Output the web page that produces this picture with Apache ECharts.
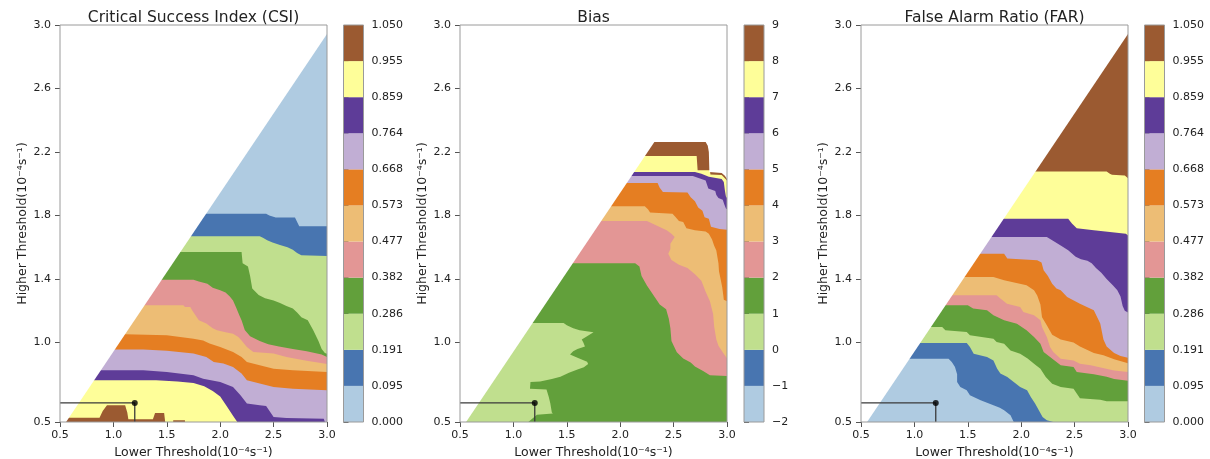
<!DOCTYPE html>
<html><head><meta charset="utf-8">
<script src="https://cdn.jsdelivr.net/npm/echarts@6/dist/echarts.min.js"></script>
<style>html,body{margin:0;padding:0;background:#fff}#c{width:1210px;height:459px}</style>
</head><body><div id="c"></div>
<script>
// ---------- data ----------
const X_TICKS = [0.5, 1.0, 1.5, 2.0, 2.5, 3.0];
const Y_TICKS = [0.5, 1.0, 1.4, 1.8, 2.2, 2.6, 3.0];
const COLORS = ['#afcbe1','#4875b0','#c0df8e','#62a03b','#e39695','#edbd75','#e57e22','#c1aed4','#5e3c98','#fefe99','#9b5a31'];
const CSI_LABELS = ['0.000','0.095','0.191','0.286','0.382','0.477','0.573','0.668','0.764','0.859','0.955','1.050'];
const BIAS_LABELS = ['\u22122','\u22121','0','1','2','3','4','5','6','7','8','9'];
const FAR_LABELS = ['0.000','0.095','0.191','0.286','0.382','0.477','0.573','0.668','0.764','0.859','0.955','1.050'];
const TITLES = ['Critical Success Index (CSI)', 'Bias', 'False Alarm Ratio (FAR)'];
const PANEL_TAGS = ['(a)', '(b)', '(c)'];
const X_NAME = 'Lower Threshold(10\u207B\u2074s\u207B\u00B9)';
const Y_NAME = 'Higher Threshold(10\u207B\u2074s\u207B\u00B9)';
// edge of the valid (lower-right) region
const DIAG = [[0.557, 0.5], [3.0, 2.943]];
// chosen threshold pair
const MARKER = [1.2, 0.62];

// CSI: upper edge of each class (class k lies below boundary k)
const CSI_B1 = [[0.5,1.812],[2.43,1.812],[2.46,1.80],[2.52,1.787],[2.70,1.787],[2.74,1.732],[3.0,1.732]];
const CSI_B2 = [[0.5,1.669],[2.37,1.669],[2.40,1.66],[2.44,1.645],[2.49,1.63],[2.56,1.615],[2.63,1.60],[2.68,1.585],[2.72,1.565],[2.76,1.55],[3.0,1.545]];
const CSI_B3 = [[0.5,1.571],[2.20,1.571],[2.21,1.50],[2.26,1.48],[2.28,1.42],[2.30,1.34],[2.36,1.30],[2.42,1.28],[2.50,1.265],[2.56,1.25],[2.62,1.23],[2.68,1.215],[2.72,1.19],[2.76,1.16],[2.82,1.14],[2.87,1.08],[2.92,1.01],[2.95,0.96],[2.98,0.935],[3.0,0.93]];
const CSI_B4 = [[0.5,1.396],[1.75,1.396],[1.80,1.385],[1.88,1.37],[1.93,1.345],[2.00,1.33],[2.05,1.315],[2.09,1.29],[2.12,1.265],[2.15,1.22],[2.18,1.17],[2.20,1.14],[2.23,1.08],[2.28,1.04],[2.37,1.01],[2.45,0.99],[2.55,0.975],[2.68,0.96],[2.81,0.945],[2.95,0.925],[3.0,0.91]];
const CSI_B5 = [[0.5,1.235],[1.655,1.235],[1.67,1.224],[1.72,1.224],[1.74,1.20],[1.77,1.17],[1.80,1.14],[1.87,1.12],[1.93,1.09],[1.97,1.077],[2.05,1.065],[2.12,1.056],[2.17,1.035],[2.20,1.014],[2.25,0.973],[2.31,0.941],[2.50,0.931],[2.62,0.91],[2.81,0.885],[3.0,0.865]];
const CSI_B6 = [[0.5,1.052],[1.11,1.052],[1.50,1.046],[1.75,1.025],[1.84,1.014],[1.90,0.994],[2.00,0.973],[2.12,0.941],[2.20,0.91],[2.25,0.878],[2.37,0.857],[2.50,0.836],[2.68,0.826],[3.0,0.815]];
const CSI_B7 = [[0.5,0.956],[1.28,0.956],[1.50,0.948],[1.75,0.931],[1.87,0.91],[1.94,0.878],[2.03,0.868],[2.12,0.847],[2.20,0.805],[2.25,0.763],[2.37,0.742],[2.50,0.721],[2.68,0.71],[3.0,0.70]];
const CSI_B8 = [[0.5,0.826],[1.28,0.826],[1.50,0.815],[1.75,0.794],[1.84,0.773],[2.00,0.752],[2.12,0.721],[2.19,0.668],[2.25,0.616],[2.37,0.605],[2.43,0.60],[2.50,0.532],[2.62,0.525],[2.97,0.52],[2.98,0.5],[3.0,0.5]];
const CSI_B9 = [[0.5,0.763],[1.40,0.763],[1.60,0.755],[1.75,0.745],[1.85,0.725],[1.93,0.695],[2.00,0.66],[2.06,0.60],[2.12,0.54],[2.16,0.5]];
const CSI_B10 = [[0.5,0.527],[0.87,0.527],[0.90,0.57],[0.94,0.605],[1.11,0.605],[1.13,0.56],[1.14,0.517],[1.37,0.517],[1.39,0.557],[1.475,0.557],[1.485,0.5],[1.56,0.5],[1.56,0.511],[1.67,0.511],[1.67,0.5],[3.0,0.5]];

// Bias: light-green pocket (class 0..1) and lower edges of higher classes (class lies above)
const BIAS_LG = [[0.5,0.5],[0.5,1.124],[1.47,1.124],[1.50,1.11],[1.56,1.09],[1.62,1.077],[1.75,1.065],[1.69,1.04],[1.64,1.02],[1.655,1.00],[1.67,0.975],[1.60,0.96],[1.56,0.945],[1.53,0.925],[1.60,0.905],[1.69,0.88],[1.70,0.865],[1.66,0.845],[1.60,0.83],[1.52,0.81],[1.44,0.785],[1.36,0.77],[1.25,0.755],[1.16,0.752],[1.155,0.71],[1.31,0.705],[1.33,0.66],[1.345,0.62],[1.36,0.56],[1.37,0.553],[1.22,0.545],[1.14,0.5]];
const BIAS_B3 = [[0.5,1.50],[2.14,1.50],[2.18,1.48],[2.20,1.42],[2.25,1.36],[2.31,1.30],[2.37,1.24],[2.43,1.21],[2.455,1.15],[2.47,1.09],[2.48,1.01],[2.53,0.94],[2.59,0.90],[2.66,0.875],[2.70,0.85],[2.78,0.82],[2.84,0.795],[3.0,0.79]];
const BIAS_B4 = [[0.5,1.766],[2.25,1.766],[2.37,1.728],[2.435,1.707],[2.48,1.686],[2.51,1.665],[2.47,1.623],[2.47,1.59],[2.45,1.56],[2.48,1.52],[2.55,1.49],[2.63,1.47],[2.70,1.43],[2.76,1.39],[2.80,1.32],[2.84,1.26],[2.87,1.18],[2.88,1.10],[2.90,1.02],[2.92,0.98],[2.96,0.94],[3.0,0.90]];
const BIAS_B5 = [[0.5,1.858],[2.23,1.858],[2.26,1.84],[2.28,1.82],[2.49,1.812],[2.52,1.79],[2.55,1.765],[2.59,1.76],[2.62,1.72],[2.70,1.707],[2.80,1.70],[2.83,1.686],[2.86,1.65],[2.88,1.61],[2.90,1.58],[2.92,1.50],[2.925,1.45],[2.94,1.40],[2.955,1.35],[2.965,1.30],[2.97,1.27],[3.0,1.26]];
const BIAS_B6 = [[0.5,2.005],[2.35,2.005],[2.37,1.975],[2.40,1.948],[2.63,1.945],[2.66,1.915],[2.70,1.89],[2.73,1.85],[2.77,1.83],[2.79,1.79],[2.83,1.78],[2.85,1.73],[2.93,1.715],[3.0,1.71]];
const BIAS_B7 = [[0.5,2.049],[2.68,2.049],[2.74,2.035],[2.80,2.02],[2.81,2.00],[2.825,1.97],[2.89,1.955],[2.90,1.93],[2.92,1.91],[2.96,1.90],[2.975,1.87],[2.99,1.845],[3.0,1.84]];
const BIAS_B8 = [[0.5,2.074],[2.70,2.074],[2.76,2.063],[2.83,2.045],[2.95,2.03],[2.97,2.011],[2.98,1.96],[2.99,1.92],[3.0,1.91]];
const BIAS_B9 = [[0.5,2.175],[2.716,2.175],[2.725,2.085],[2.84,2.085],[2.845,2.058],[2.95,2.055],[2.98,2.035],[3.0,2.02]];
const BIAS_TOP = [[0.5,2.263],[2.80,2.263],[2.82,2.24],[2.83,2.20],[2.835,2.074],[2.95,2.068],[2.98,2.05],[3.0,2.03]];

// FAR: lower edge of each class (class k lies above boundary k)
const FAR_B1 = [[0.5,0.899],[1.32,0.899],[1.35,0.878],[1.38,0.847],[1.40,0.80],[1.40,0.752],[1.43,0.72],[1.49,0.70],[1.52,0.668],[1.62,0.637],[1.74,0.605],[1.80,0.59],[1.84,0.574],[1.90,0.542],[1.93,0.5],[3.0,0.5]];
const FAR_B2 = [[0.5,0.997],[1.49,0.997],[1.52,0.972],[1.555,0.93],[1.68,0.91],[1.74,0.888],[1.775,0.836],[1.805,0.805],[1.87,0.783],[1.93,0.752],[1.99,0.72],[2.055,0.70],[2.09,0.658],[2.13,0.616],[2.165,0.574],[2.20,0.532],[2.24,0.511],[2.30,0.5],[3.0,0.5]];
const FAR_B3 = [[0.5,1.098],[1.26,1.098],[1.29,1.077],[1.49,1.067],[1.52,1.046],[1.74,1.025],[1.77,1.004],[1.84,0.993],[1.90,0.951],[1.99,0.93],[2.06,0.90],[2.12,0.867],[2.18,0.836],[2.23,0.783],[2.29,0.741],[2.37,0.72],[2.49,0.71],[2.52,0.68],[2.55,0.65],[2.74,0.64],[2.80,0.63],[3.0,0.63]];
const FAR_B4 = [[0.5,1.235],[1.50,1.235],[1.55,1.214],[1.68,1.203],[1.74,1.172],[1.84,1.14],[1.96,1.119],[2.05,1.077],[2.12,1.035],[2.18,0.993],[2.21,0.941],[2.27,0.91],[2.37,0.857],[2.49,0.846],[2.52,0.815],[2.68,0.80],[2.80,0.785],[2.87,0.77],[3.0,0.76]];
const FAR_B5 = [[0.5,1.298],[1.77,1.298],[1.805,1.277],[1.867,1.245],[1.99,1.224],[2.02,1.193],[2.12,1.172],[2.18,1.14],[2.195,1.098],[2.24,1.035],[2.27,0.972],[2.30,0.941],[2.37,0.899],[2.49,0.888],[2.55,0.867],[2.65,0.857],[2.87,0.825],[3.0,0.815]];
const FAR_B6 = [[0.5,1.413],[1.74,1.413],[1.84,1.392],[2.05,1.361],[2.12,1.33],[2.15,1.297],[2.18,1.24],[2.195,1.16],[2.24,1.11],[2.29,1.05],[2.37,1.02],[2.49,1.00],[2.55,0.975],[2.68,0.935],[2.77,0.92],[2.87,0.895],[3.0,0.87]];
const FAR_B7 = [[0.5,1.56],[1.84,1.56],[1.87,1.53],[2.15,1.518],[2.19,1.505],[2.21,1.455],[2.25,1.42],[2.29,1.37],[2.33,1.34],[2.37,1.33],[2.43,1.287],[2.55,1.245],[2.68,1.203],[2.74,1.12],[2.77,1.02],[2.80,0.975],[2.87,0.935],[2.93,0.915],[3.0,0.905]];
const FAR_B8 = [[0.5,1.665],[2.24,1.665],[2.29,1.644],[2.37,1.612],[2.44,1.581],[2.51,1.54],[2.56,1.525],[2.62,1.515],[2.66,1.50],[2.70,1.47],[2.75,1.44],[2.80,1.40],[2.86,1.36],[2.90,1.33],[2.93,1.29],[2.95,1.23],[2.97,1.20],[3.0,1.19]];
const FAR_B9 = [[0.5,1.78],[2.44,1.78],[2.475,1.75],[2.52,1.72],[2.68,1.707],[2.83,1.696],[2.98,1.686],[3.0,1.675]];
const FAR_B10 = [[0.5,2.078],[2.80,2.078],[2.83,2.064],[2.85,2.057],[2.97,2.053],[3.0,2.035]];

// ---------- build ----------
const XMIN = X_TICKS[0], XMAX = X_TICKS[X_TICKS.length-1];
const YMIN = Y_TICKS[0], YMAX = Y_TICKS[Y_TICKS.length-1];
const BOX = [[XMIN,YMIN],[XMAX,YMIN],[XMAX,YMAX],[XMIN,YMAX]];
const below = p => p.concat([[XMAX,YMIN],[XMIN,YMIN]]);
const above = p => p.concat([[XMAX,YMAX],[XMIN,YMAX]]);
const DIAG_MASK = [[XMIN,YMIN]].concat(DIAG, [[XMAX,YMAX],[XMIN,YMAX]]);
const WHITE = '#ffffff';

const layersA = [{p:BOX,c:COLORS[0]}]
  .concat([CSI_B1,CSI_B2,CSI_B3,CSI_B4,CSI_B5,CSI_B6,CSI_B7,CSI_B8,CSI_B9,CSI_B10].map((b,i)=>({p:below(b),c:COLORS[i+1]})))
  .concat([{p:DIAG_MASK,c:WHITE}]);
const layersB = [{p:BOX,c:COLORS[3]},{p:BIAS_LG,c:COLORS[2]}]
  .concat([BIAS_B3,BIAS_B4,BIAS_B5,BIAS_B6,BIAS_B7,BIAS_B8,BIAS_B9].map((b,i)=>({p:above(b),c:COLORS[i+4]})))
  .concat([{p:above(BIAS_TOP),c:WHITE},{p:DIAG_MASK,c:WHITE}]);
const layersC = [{p:BOX,c:COLORS[0]}]
  .concat([FAR_B1,FAR_B2,FAR_B3,FAR_B4,FAR_B5,FAR_B6,FAR_B7,FAR_B8,FAR_B9,FAR_B10].map((b,i)=>({p:above(b),c:COLORS[i+1]})))
  .concat([{p:DIAG_MASK,c:WHITE}]);

const FONT = 'DejaVu Sans';
const TXT = '#222';
const PLOT_LEFT = [60, 460, 861];
const PLOT_W = 267, TOP = 25, H = 397;
const CB_LEFT = [343.5, 744, 1144.5], CB_W = 20;
const LABELS = [CSI_LABELS, BIAS_LABELS, FAR_LABELS];
const LAYERS = [layersA, layersB, layersC];

const grid = [], xAxis = [], yAxis = [], series = [], graphic = [];
for (let k = 0; k < 3; k++) {
  grid.push({left:PLOT_LEFT[k], top:TOP, width:PLOT_W, height:H, containLabel:false, outerBoundsMode:'none', show:true, borderColor:'#9a9a9a', borderWidth:1, backgroundColor:'transparent', z:10});
  grid.push({left:CB_LEFT[k], top:TOP, width:CB_W, height:H, containLabel:false, outerBoundsMode:'none', show:true, borderColor:'#9a9a9a', borderWidth:1, backgroundColor:'transparent', z:10});
  const gp = 2*k, gc = 2*k+1;
  xAxis.push({type:'value', gridIndex:gp, min:XMIN, max:XMAX, interval:0.5,
    axisLine:{show:false}, splitLine:{show:false},
    axisTick:{show:true, length:5, lineStyle:{color:'#555'}},
    axisLabel:{fontFamily:FONT, fontSize:11, color:TXT, margin:8, formatter:v=>v.toFixed(1)},
    name:X_NAME, nameLocation:'middle', nameGap:21, nameTextStyle:{fontFamily:FONT, fontSize:12.5, color:TXT}});
  yAxis.push({type:'value', gridIndex:gp, min:YMIN, max:YMAX,
    axisLine:{show:false}, splitLine:{show:false},
    axisTick:{show:true, length:5, lineStyle:{color:'#555'}, customValues:Y_TICKS},
    axisLabel:{fontFamily:FONT, fontSize:11, color:TXT, margin:9, customValues:Y_TICKS, formatter:v=>v.toFixed(1)},
    name:Y_NAME, nameLocation:'middle', nameGap:30, nameTextStyle:{fontFamily:FONT, fontSize:12.5, color:TXT}});
  xAxis.push({type:'value', gridIndex:gc, min:0, max:1, show:false});
  const labs = LABELS[k];
  yAxis.push({type:'value', gridIndex:gc, min:0, max:labs.length-1, interval:1, position:'right',
    axisLine:{show:false}, splitLine:{show:false},
    axisTick:{show:true, length:5, lineStyle:{color:'#555'}},
    axisLabel:{fontFamily:FONT, fontSize:11, color:TXT, margin:8, formatter:v=>labs[Math.round(v)]}});

  const layers = LAYERS[k];
  series.push({type:'custom', xAxisIndex:gp, yAxisIndex:gp, clip:true, silent:true, z:2,
    data: layers.map((l,i)=>[l.p[0][0], l.p[0][1], i]),
    renderItem:(params, api)=>{
      const L = layers[params.dataIndex];
      return {type:'polygon', z2:params.dataIndex, shape:{points:L.p.map(pt=>api.coord(pt))}, style:{fill:L.c, stroke:null}};
    }});
  series.push({type:'custom', xAxisIndex:gc, yAxisIndex:gc, silent:true, z:2,
    data: COLORS.map((c,i)=>[0, i]),
    renderItem:(params, api)=>{
      const i = api.value(1);
      const p0 = api.coord([0, i]), p1 = api.coord([1, i+1]);
      return {type:'rect', shape:{x:p0[0], y:p1[1], width:p1[0]-p0[0], height:p0[1]-p1[1]}, style:{fill:COLORS[params.dataIndex]}};
    }});
  series.push({type:'line', xAxisIndex:gp, yAxisIndex:gp, z:6, silent:true, symbol:'none',
    lineStyle:{color:'#3a3a3a', width:1.3},
    data:[[XMIN, MARKER[1]], MARKER, [MARKER[0], YMIN]]});
  series.push({type:'scatter', xAxisIndex:gp, yAxisIndex:gp, z:7, silent:true, symbolSize:6,
    itemStyle:{color:'#000'}, data:[MARKER]});

  graphic.push({type:'text', x:PLOT_LEFT[k] + PLOT_W/2, y:17.5, style:{text:TITLES[k], font:'15.5px "DejaVu Sans"', fill:TXT, align:'center', verticalAlign:'middle'}});
  graphic.push({type:'text', x:PLOT_LEFT[k] + 5, y:53, style:{text:PANEL_TAGS[k], font:'14px "DejaVu Sans"', fill:TXT, align:'left', verticalAlign:'middle'}});
}

const chart = echarts.init(document.getElementById('c'), null, {renderer:'canvas'});
chart.setOption({animation:false, backgroundColor:'#fff', grid, xAxis, yAxis, series, graphic});
</script></body></html>
